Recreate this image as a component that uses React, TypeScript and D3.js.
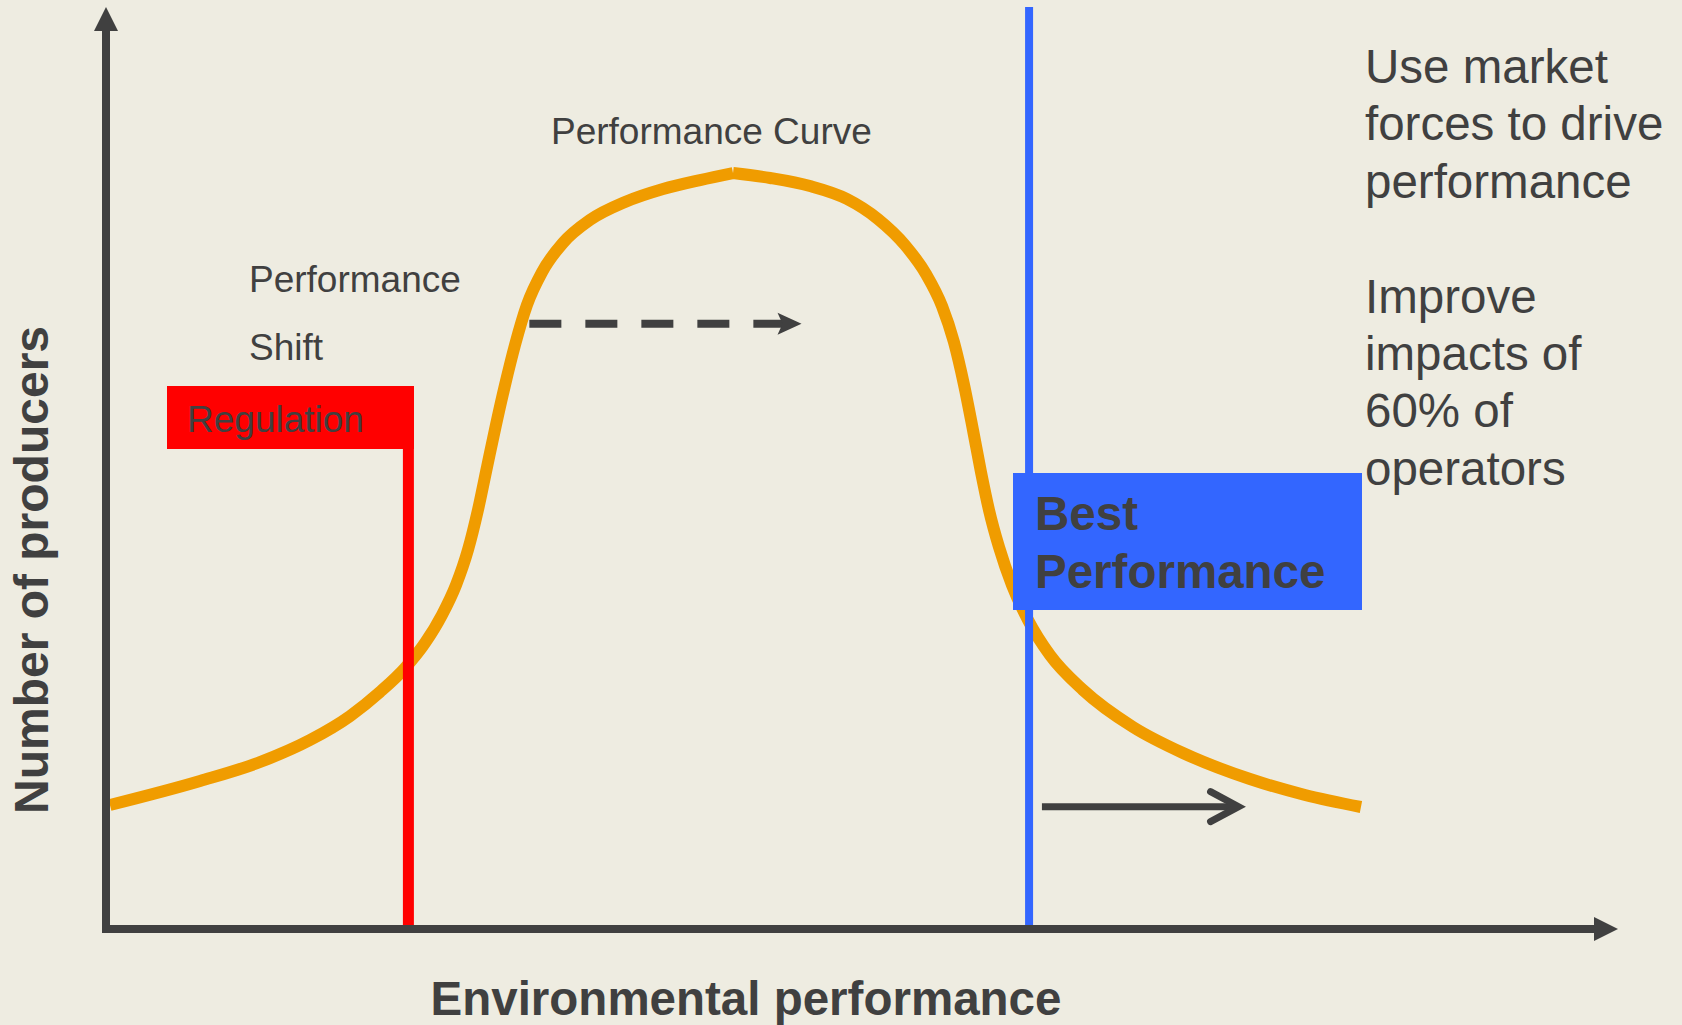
import React from 'react';
import * as d3 from 'd3';

// performance curve (x: environmental performance 0-100, y: producers 0-100)
// rising side, up to the peak
const riseX = [0.26, 6.22, 10.19, 13.49, 16.14, 18.12, 19.78, 21.10, 22.22, 23.15, 23.94, 24.60, 25.20, 25.79, 26.39, 27.05,
  27.84, 28.84, 30.22, 32.01, 34.33, 36.84, 39.29, 41.47];
const riseY = [13.48, 16.09, 18.15, 20.54, 23.15, 25.76, 28.37, 31.09, 34.13, 37.39, 41.20, 45.54, 50.22, 54.78, 59.13, 63.48,
  67.83, 71.41, 74.57, 77.07, 79.02, 80.43, 81.41, 82.17];
// falling side, from the peak
const fallX = [41.47, 43.92, 46.56, 49.01, 51.06, 52.84, 54.23, 55.29, 56.08, 56.75, 57.34, 57.87, 58.40, 59.06, 59.92, 60.98,
  62.43, 64.62, 67.92, 71.23, 75.66, 79.30, 83.00];
const fallY = [82.17, 81.63, 80.76, 79.35, 77.17, 74.35, 71.20, 67.72, 63.80, 59.13, 54.24, 49.67, 45.54, 41.52, 37.39, 33.59,
  29.78, 25.98, 21.96, 19.13, 16.30, 14.57, 13.26];

const regulationX = 20.0;
const bestX = 61.05;
const shiftArrow = { x0: 28.0, x1: 46.0, y: 65.8 };
const marketArrow = { x0: 61.9, x1: 75.3, y: 13.3 };

const rightNotes = ['Use market', 'forces to drive', 'performance', '', 'Improve', 'impacts of', '60% of', 'operators'];

const W = 1682;
const H = 1025;
const BG = '#EEECE1';
const DARK = '#404040';
const ORANGE = '#F09C00';
const BLUE = '#3366FF';
const RED = '#FF0000';
const FONT = '"Liberation Sans", Arial, sans-serif';

const App = () => {
  const x = d3.scaleLinear().domain([0, 100]).range([106, 1618]);
  const y = d3.scaleLinear().domain([0, 100]).range([929, 9]);

  const line = d3.line<[number, number]>()
    .x(d => x(d[0]))
    .y(d => y(d[1]))
    .curve(d3.curveMonotoneX);

  const rise = riseX.map((v, i) => [v, riseY[i]] as [number, number]);
  const fall = fallX.map((v, i) => [v, fallY[i]] as [number, number]);

  const regPx = x(regulationX);
  const bestPx = x(bestX);
  const shY = y(shiftArrow.y);
  const mkY = y(marketArrow.y);
  const shTip = x(shiftArrow.x1);
  const mkTip = x(marketArrow.x1) - 6;

  return (
    <svg width={W} height={H} style={{ position: 'absolute', left: 0, top: 0, display: 'block' }} fontFamily={FONT}>
      <rect width={W} height={H} fill={BG} />

      {/* curve, two halves meeting in a small cusp at the peak */}
      <path d={line(rise) || ''} fill="none" stroke={ORANGE} strokeWidth={12} />
      <path d={line(fall) || ''} fill="none" stroke={ORANGE} strokeWidth={12} />

      {/* regulation */}
      <rect x={167} y={386} width={regPx + 5.5 - 167} height={63} fill={RED} />
      <line x1={regPx} x2={regPx} y1={386} y2={y(0) + 2} stroke={RED} strokeWidth={11} />
      <text x={187} y={432} fontSize={37} fill={DARK}>Regulation</text>

      {/* best performance */}
      <line x1={bestPx} x2={bestPx} y1={7} y2={y(0) + 2} stroke={BLUE} strokeWidth={8} />
      <rect x={1013} y={473} width={349} height={137} fill={BLUE} />
      <text x={1035} y={530} fontSize={47.5} fontWeight="bold" fill={DARK}>Best</text>
      <text x={1035} y={588} fontSize={47.5} fontWeight="bold" fill={DARK}>Performance</text>

      {/* performance shift arrow */}
      <line x1={x(shiftArrow.x0)} x2={shTip - 18} y1={shY} y2={shY} stroke={DARK} strokeWidth={8} strokeDasharray="32 24" />
      <polygon points={`${shTip},${shY} ${shTip - 24},${shY - 11} ${shTip - 19},${shY} ${shTip - 24},${shY + 11}`} fill={DARK} />

      {/* market arrow */}
      <line x1={x(marketArrow.x0)} x2={mkTip - 2} y1={mkY} y2={mkY} stroke={DARK} strokeWidth={7} />
      <polyline points={`${mkTip - 28},${mkY - 15} ${mkTip},${mkY} ${mkTip - 28},${mkY + 15}`} fill="none" stroke={DARK} strokeWidth={7} strokeLinecap="round" strokeLinejoin="miter" />

      {/* axes */}
      <line x1={x(0)} x2={x(0)} y1={30} y2={y(0) + 4} stroke={DARK} strokeWidth={8} />
      <polygon points={`${x(0)},7 ${x(0) - 12},31 ${x(0) + 12},31`} fill={DARK} />
      <line x1={x(0) - 4} x2={1596} y1={y(0)} y2={y(0)} stroke={DARK} strokeWidth={8} />
      <polygon points={`1618,${y(0)} 1594,${y(0) - 12} 1594,${y(0) + 12}`} fill={DARK} />

      {/* labels */}
      <text x={551} y={144} fontSize={37} fill={DARK}>Performance Curve</text>
      <text x={249} y={292} fontSize={37} fill={DARK}>Performance</text>
      <text x={249} y={360} fontSize={37} fill={DARK}>Shift</text>

      <text x={746} y={1015} fontSize={47.5} fontWeight="bold" fill={DARK} textAnchor="middle">Environmental performance</text>
      <text transform="translate(48,570) rotate(-90)" fontSize={48} fontWeight="bold" fill={DARK} textAnchor="middle">Number of producers</text>

      {rightNotes.map((t, i) => (
        <text key={i} x={1365} y={83 + i * 57.4} fontSize={47.5} fill={DARK}>{t}</text>
      ))}
    </svg>
  );
};

export default App;
